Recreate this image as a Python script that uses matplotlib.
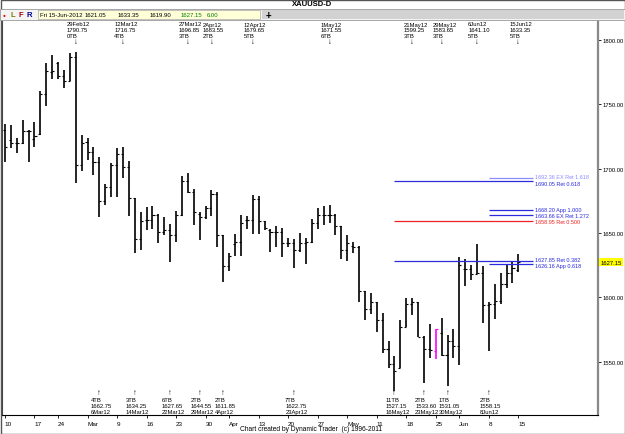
import matplotlib
matplotlib.use('Agg')
import matplotlib.pyplot as plt
from matplotlib.patches import Rectangle
from matplotlib.transforms import blended_transform_factory
import pandas as pd

W, H = 625, 435
plt.rcParams['font.family'] = ['Liberation Sans', 'DejaVu Sans']

# trading days (US holidays dropped)
holidays = ['2012-02-20', '2012-04-06', '2012-05-28']
dates = pd.bdate_range('2012-02-10', '2012-06-15')
dates = dates[~dates.isin(pd.to_datetime(holidays))]

opens = [1730, 1722, 1720, 1720, 1729, 1723, 1727, 1758, 1775, 1782, 1772, 1768, 1787,
         1703, 1721, 1713, 1705, 1675, 1686, 1703, 1711, 1701, 1677, 1645, 1660, 1660,
         1664, 1651, 1652, 1648, 1664, 1690, 1682, 1665, 1662, 1669, 1680, 1648, 1624,
         1641, 1643, 1660, 1660, 1676, 1659, 1652, 1651, 1651, 1642, 1642, 1637, 1642,
         1643, 1658, 1664, 1664, 1664, 1655, 1637, 1640, 1639, 1605, 1591, 1596, 1582,
         1560, 1548, 1545, 1577, 1595, 1596, 1569, 1560, 1558, 1572, 1555, 1566, 1562,
         1622, 1622, 1618, 1619, 1594, 1595, 1597, 1610, 1619, 1621.05]
highs = [1735, 1734, 1724, 1738, 1730, 1736, 1760, 1782, 1788, 1783, 1777, 1790, 1790.75,
         1726, 1724, 1717, 1709, 1688, 1704, 1716, 1716.75, 1706, 1677, 1666, 1670, 1671,
         1665, 1662, 1657, 1667, 1694, 1696.85, 1684, 1666, 1671, 1683.55, 1682, 1648, 1634,
         1649, 1664, 1663, 1679.65, 1679, 1659, 1653, 1655, 1654, 1646, 1645, 1650, 1646,
         1661, 1669, 1671, 1671.55, 1665, 1655, 1648, 1643, 1640, 1605, 1603, 1596, 1588,
         1566, 1554, 1582, 1599, 1599.25, 1596, 1570, 1579, 1575, 1583.65, 1571, 1575, 1631,
         1630, 1625, 1641.10, 1624, 1596, 1610, 1619, 1625, 1627, 1633.35]
lows = [1705, 1716, 1712, 1719, 1705, 1717, 1726, 1749, 1770, 1770, 1763, 1768, 1689,
        1698, 1707, 1695, 1662.75, 1672, 1678, 1678, 1693, 1663, 1634.25, 1637, 1652, 1653,
        1642, 1648, 1627.65, 1643, 1663, 1681, 1656, 1644.55, 1661, 1663, 1639, 1611.85, 1620,
        1632, 1632, 1653, 1649, 1649, 1652, 1635, 1639, 1631, 1639, 1622.75, 1635, 1626,
        1642, 1653, 1656, 1658, 1648, 1630, 1628, 1634, 1596, 1582, 1587, 1573, 1557,
        1545, 1527.15, 1545, 1577, 1586, 1569, 1533.60, 1553, 1552, 1554, 1531.05, 1553, 1547,
        1609, 1613, 1618, 1580, 1558.15, 1583, 1595, 1607, 1611, 1619.90]
closes = [1717, 1720, 1720, 1729, 1729, 1725, 1758, 1776, 1776, 1772, 1768, 1787, 1703,
          1720, 1713, 1705, 1675, 1686, 1703, 1711, 1701, 1677, 1645, 1659, 1660, 1664,
          1651, 1652, 1648, 1664, 1690, 1682, 1666, 1662, 1669, 1680, 1648, 1624, 1632,
          1643, 1658, 1660, 1676, 1659, 1654, 1651, 1651, 1642, 1642, 1637, 1642, 1643,
          1658, 1664, 1664, 1664, 1655, 1637, 1642, 1639, 1605, 1591, 1596, 1582, 1560,
          1548, 1543, 1577, 1595, 1596, 1569, 1560, 1559, 1575, 1555, 1566, 1562, 1625,
          1622, 1618, 1619, 1594, 1595, 1597, 1610, 1619, 1623, 1627.15]
highlight_dates = ['2012-05-25']

# swing annotations: date, price, time-bar count
tops = [('29Feb12', 1790.75, '0TB'), ('12Mar12', 1716.75, '4TB'), ('27Mar12', 1696.85, '3TB'),
        ('2Apr12', 1683.55, '2TB'), ('12Apr12', 1679.65, '5TB'), ('1May12', 1671.55, '6TB'),
        ('21May12', 1599.25, '3TB'), ('29May12', 1583.65, '3TB'), ('6Jun12', 1641.10, '5TB'),
        ('15Jun12', 1633.35, '5TB')]
bottoms = [('6Mar12', 1662.75, '4TB'), ('14Mar12', 1634.25, '3TB'), ('22Mar12', 1627.65, '6TB'),
           ('29Mar12', 1644.55, '2TB'), ('4Apr12', 1611.85, '2TB'), ('23Apr12', 1622.75, '7TB'),
           ('16May12', 1527.15, '11TB'), ('23May12', 1533.60, '2TB'), ('30May12', 1531.05, '1TB'),
           ('8Jun12', 1558.15, '2TB')]

# retracement / projection levels: price, label, colour, start date
fib_prices = [1692.36, 1690.05, 1668.20, 1663.66, 1658.95, 1627.85, 1626.16]
fib_names = ['EX Ret 1.618', 'Ret 0.618', 'App 1.000', 'EX Ret 1.272', 'Ret 0.500',
             'Ret 0.382', 'App 0.618']
fib_colors = ['#8c8cff', '#2b2bdd', '#2b2bdd', '#2b2bdd', '#ee2222', '#2b2bdd', '#2b2bdd']
fib_start = ['8Jun12', '16May12', '8Jun12', '8Jun12', '16May12', '16May12', '8Jun12']
fib_nudge = [1.4, -1.4, 0, 0, 0, 1.4, -1.4]  # keep close labels readable

price_ticks = [1550, 1600, 1650, 1700, 1750, 1800]
last_price = 1627.15


def idx_of(s):
    return int(dates.get_loc(pd.to_datetime(s, format='%d%b%y')))


fig = plt.figure(figsize=(W / 100, H / 100), dpi=100)
fig.patch.set_facecolor('white')


def fig_rect(x, y, w, h, **kw):
    fig.add_artist(Rectangle((x / W, 1 - (y + h) / H), w / W, h / H,
                             transform=fig.transFigure, **kw))


def fig_text(x, y, s, **kw):
    fig.text(x / W, 1 - y / H, s, **kw)


# header
fig_rect(0.5, 0.5, W - 1, H - 1, fill=False, ec='#555555', lw=1)
fig_rect(0, 10, W, 11, fc='#f4f4f4', ec='#999999', lw=0.6)
fig_rect(262, 11, W - 263, 9, fc='#d2d2d2', ec='none')
fig_rect(38, 11, 222, 9, fc='#ffffd8', ec='#aaaaaa', lw=0.5)
fig_text(312, 5, 'XAUUSD-D', fontsize=5.5, fontweight='bold', ha='center', va='center')
fig_text(4.5, 15.5, '\u25CF', fontsize=3.5, color='#ee0000', ha='center', va='center')
fig_text(13, 15.5, 'L', fontsize=5.5, fontweight='bold', color='#7a7a00', ha='center', va='center')
fig_text(21, 15.5, 'F', fontsize=5.5, fontweight='bold', color='#a00000', ha='center', va='center')
fig_text(29, 15.5, 'R', fontsize=5.5, fontweight='bold', color='#000090', ha='center', va='center')
fig_text(268, 15.5, '+', fontsize=7, fontweight='bold', ha='center', va='center')
hdr = [(40, 'Fri 15-Jun-2012', 'black'), (85, '1621.05', 'black'), (118, '1633.35', 'black'),
       (150, '1619.90', 'black'), (181, '1627.15', '#008000'), (207, '6.00', '#008000')]
for hx, s, c in hdr:
    fig_text(hx, 15.5, s, fontsize=4.3, color=c, va='center')
fig_text(311, 430, 'Chart created by Dynamic Trader  (c) 1996-2011', fontsize=4.8,
         ha='center', va='center')

ax = fig.add_axes([2 / W, (H - 416) / H, 596 / W, (416 - 22) / H])
ax.set_xlim(-0.5, 100.5)
ax.set_ylim(1508.4, 1814.8)

x = list(range(len(dates)))
cols = ['#ff00ff' if d.strftime('%Y-%m-%d') in highlight_dates else 'black' for d in dates]
ax.vlines(x, lows, highs, colors=cols, lw=1.2)
ax.hlines(opens, [i - 0.35 for i in x], x, colors=cols, lw=0.8)
ax.hlines(closes, x, [i + 0.35 for i in x], colors=cols, lw=0.8)

end_x = 89.5
for p, name, c, st, dy in zip(fib_prices, fib_names, fib_colors, fib_start, fib_nudge):
    ax.hlines(p, idx_of(st), end_x, colors=c, lw=0.9)
    ax.text(end_x + 0.3, p + dy, f'{p:.2f} {name}', color=c, fontsize=4.0, va='center', ha='left')

tr = blended_transform_factory(ax.transData, fig.transFigure)
for d, p, tb in tops:
    i = idx_of(d)
    for k, s in enumerate([d, f'{p:.2f}', tb]):
        ax.text(i - 1.5, 1 - (25 + 6 * k) / H, s, transform=tr, fontsize=4.2,
                ha='left', va='center')
    ax.text(i, 1 - 43 / H, '\u2193', transform=tr, fontsize=5.5, ha='center', va='center')
for d, p, tb in bottoms:
    i = idx_of(d)
    ax.text(i, 1 - 394 / H, '\u2191', transform=tr, fontsize=5.5, ha='center', va='center')
    for k, s in enumerate([tb, f'{p:.2f}', d]):
        ax.text(i - 1.5, 1 - (401 + 6 * k) / H, s, transform=tr, fontsize=4.2,
                ha='left', va='center')

# weekly ticks on last trading day of each week
week = dates.to_series().dt.isocalendar().week.values
tick_idx, tick_lbl = [], []
prev_month = None
for i in range(len(dates)):
    if i == len(dates) - 1 or week[i + 1] != week[i]:
        d = dates[i]
        tick_idx.append(i)
        if prev_month is not None and d.month != prev_month:
            tick_lbl.append(d.strftime('%b'))
        else:
            tick_lbl.append(str(d.day))
        prev_month = d.month
ax.set_xticks(tick_idx)
ax.set_xticklabels(tick_lbl, ha='left')
ax.tick_params(axis='x', length=2.5, width=0.6, labelsize=4.6, pad=1.5)

ax.yaxis.tick_right()
ax.set_yticks(price_ticks)
ax.set_yticklabels([f'{v:.2f}' for v in price_ticks])
ax.tick_params(axis='y', length=2, width=0.6, labelsize=4.2, pad=1)
ax.text(1.004, last_price, f'{last_price:.2f}', transform=blended_transform_factory(ax.transAxes, ax.transData),
        fontsize=4.2, va='center', ha='left',
        bbox=dict(boxstyle='square,pad=0.25', fc='#ffff00', ec='none'))

ax.spines['top'].set_visible(False)
ax.spines['left'].set_color('#444444')
ax.spines['left'].set_linewidth(0.8)
ax.spines['bottom'].set_linewidth(0.8)
ax.spines['right'].set_color('#888888')
ax.spines['right'].set_linewidth(1.6)

fig.savefig('out.png', dpi=100)
